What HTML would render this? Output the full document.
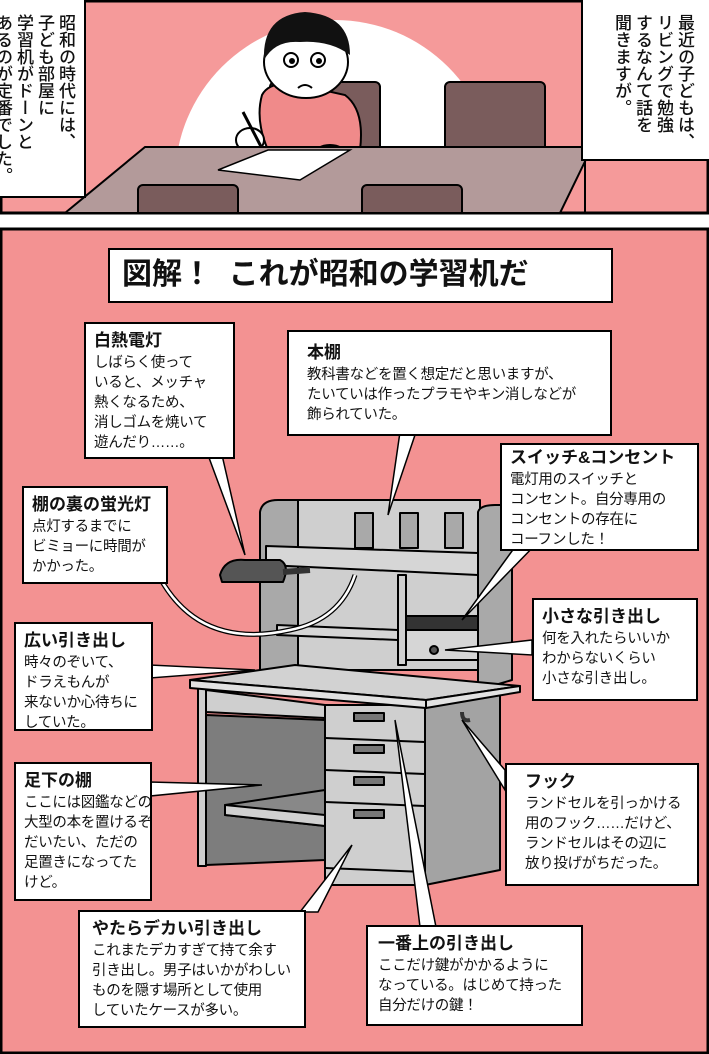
<!DOCTYPE html>
<html><head><meta charset="utf-8"><style>
body{margin:0;width:709px;height:1054px;background:#fff;overflow:hidden;position:relative;font-family:"Liberation Sans","Noto Sans CJK JP",sans-serif;}
.box{position:absolute;background:#fff;border:2px solid #000;box-sizing:border-box;padding:6px 8px;color:#111;white-space:nowrap;overflow:hidden;}
.box h4{margin:0 0 2px;font-size:17px;font-weight:bold;line-height:21px;}
.box p{margin:0;font-size:14.5px;line-height:20px;letter-spacing:-0.3px;}
.v{writing-mode:vertical-rl;font-size:17px;line-height:21px;font-weight:500;padding:14px 8px;}
</style></head><body>
<svg width="709" height="1054" style="position:absolute;left:0;top:0">
<rect x="1" y="1" width="707" height="212" fill="#f59a9a" stroke="#000" stroke-width="3"/>
<clipPath id="tp"><rect x="2" y="2" width="705" height="210"/></clipPath>
<g clip-path="url(#tp)">
<circle cx="335" cy="180" r="160" fill="#fff"/>
<rect x="445" y="82" width="100" height="75" rx="5" fill="#7a5c5c" stroke="#000" stroke-width="2"/>
<rect x="270" y="82" width="110" height="75" rx="5" fill="#7a5c5c" stroke="#000" stroke-width="2"/>
<path d="M262 95 Q270 80 300 85 L345 95 Q365 110 360 150 L268 150 Q255 120 262 95Z" fill="#f08a8a" stroke="#000" stroke-width="2"/>
<ellipse cx="306" cy="62" rx="42" ry="36" fill="#fff" stroke="#000" stroke-width="2"/>
<path d="M264 60 Q262 15 305 12 Q350 15 350 55 Q330 40 300 42 Q275 40 264 60Z" fill="#111"/>
<circle cx="291" cy="60" r="7" fill="#fff" stroke="#000" stroke-width="2"/><circle cx="292" cy="61" r="3"/>
<circle cx="318" cy="60" r="7" fill="#fff" stroke="#000" stroke-width="2"/><circle cx="319" cy="61" r="3"/>
<path d="M298 88 Q305 82 312 88" fill="none" stroke="#000" stroke-width="2"/>
<ellipse cx="250" cy="140" rx="14" ry="12" fill="#fff" stroke="#000" stroke-width="2"/>
<ellipse cx="330" cy="155" rx="16" ry="10" fill="#fff" stroke="#000" stroke-width="2"/>
<line x1="243" y1="112" x2="268" y2="160" stroke="#000" stroke-width="3"/>
<polygon points="65,213 145,147 592,147 560,213" fill="#b39a9a" stroke="#000" stroke-width="2"/>
<polygon points="218,170 268,150 350,150 300,180" fill="#fff" stroke="#000" stroke-width="1.5"/>
<line x1="585" y1="150" x2="585" y2="213" stroke="#000" stroke-width="2"/>
<rect x="138" y="185" width="100" height="40" rx="5" fill="#7a5c5c" stroke="#000" stroke-width="2"/>
<rect x="362" y="185" width="100" height="40" rx="5" fill="#7a5c5c" stroke="#000" stroke-width="2"/>
</g>
<rect x="1" y="229" width="707" height="824" fill="#f39292" stroke="#000" stroke-width="3"/>
<g stroke="#000" stroke-width="2" stroke-linejoin="round">
<path d="M260 680 L260 512 Q262 500 278 500 L298 500 L298 680Z" fill="#a9a9a9"/>
<rect x="298" y="500" width="182" height="170" fill="#cfcfcf"/>
<path d="M478 690 L478 512 Q480 505 495 505 L512 505 L512 680Z" fill="#a9a9a9"/>
<rect x="355" y="513" width="18" height="35" fill="#a9a9a9"/>
<rect x="400" y="513" width="18" height="35" fill="#a9a9a9"/>
<rect x="445" y="513" width="18" height="35" fill="#a9a9a9"/>
<polygon points="266,546 478,553 478,575 266,565" fill="#d6d6d6"/>
<rect x="398" y="575" width="8" height="90" fill="#cfcfcf"/>
<rect x="406" y="616" width="72" height="14" fill="#333"/>
<rect x="406" y="630" width="72" height="30" fill="#d6d6d6"/>
<circle cx="434" cy="650" r="4" fill="#555"/>
<polygon points="277,625 398,630 398,640 277,635" fill="#d6d6d6"/>
<path d="M220 575 Q225 558 245 560 L280 560 Q290 565 283 582 L222 582Z" fill="#555"/>
<path d="M283 572 L310 570" stroke="#333" stroke-width="6"/>
<rect x="198" y="688" width="8" height="178" fill="#cfcfcf"/>
<polygon points="206,715 325,720 325,860 206,865" fill="#7d7d7d"/>
<polygon points="206,690 325,705 325,718 206,712" fill="#cfcfcf"/>
<polygon points="225,805 325,790 325,826 225,815" fill="#888"/>
<polygon points="225,805 325,815 325,826 225,815" fill="#d0d0d0"/>
<polygon points="425,705 500,690 500,870 425,885" fill="#a3a3a3"/>
<rect x="325" y="705" width="100" height="180" fill="#cfcfcf"/>
<line x1="325" y1="738" x2="425" y2="742"/><line x1="325" y1="770" x2="425" y2="774"/><line x1="325" y1="802" x2="425" y2="806"/><line x1="325" y1="868" x2="425" y2="872"/>
<rect x="354" y="713" width="30" height="8" fill="#777"/><rect x="354" y="745" width="30" height="8" fill="#777"/><rect x="354" y="777" width="30" height="8" fill="#777"/><rect x="354" y="810" width="30" height="8" fill="#777"/>
<polygon points="190,680 295,665 520,686 426,700" fill="#d2d2d2"/>
<polygon points="190,680 426,700 426,708 190,688" fill="#e2e2e2"/>
<polygon points="426,700 520,686 520,692 426,708" fill="#e2e2e2"/>
<path d="M462 712 Q462 722 470 720" fill="none" stroke="#333" stroke-width="4"/>
</g>
<g fill="#fff" stroke="#000" stroke-width="1.5">
<polygon points="208,455 222,455 245,555"/>
<polygon points="400,432 416,432 388,515"/>
<polygon points="520,540 540,540 462,620"/>
<polygon points="532,640 532,655 445,650"/>
<polygon points="150,665 150,678 255,670"/>
<polygon points="150,782 150,796 262,785"/>
<polygon points="505,770 505,790 462,720"/>
<polygon points="300,912 318,912 352,845"/>
<polygon points="420,927 436,927 395,720"/>
</g>
<path d="M160 578 Q200 650 290 630 Q340 620 355 575" fill="none" stroke="#000" stroke-width="5"/>
<path d="M160 578 Q200 650 290 630 Q340 620 355 575" fill="none" stroke="#fff" stroke-width="2.5"/>
</svg>
<div class="box v" style="left:0;top:0;width:86px;height:198px;border-top:none;border-left:none">昭和の時代には、<br>子ども部屋に<br>学習机がドーンと<br>あるのが定番でした。</div>
<div class="box v" style="left:581px;top:0;width:128px;height:161px;border-top:none;border-right:none;padding-left:14px;padding-right:14px">最近の子どもは、<br>リビングで勉強<br>するなんて話を<br>聞きますが。</div>
<div class="box" style="left:108px;top:248px;width:505px;height:55px;font-size:30px;font-weight:bold;line-height:40px;padding:5px 12px;">図解！&nbsp;&nbsp;これが昭和の学習机だ</div>
<div class="box" style="left:84px;top:322px;width:151px;height:137px"><h4>白熱電灯</h4><p>しばらく使って<br>いると、メッチャ<br>熱くなるため、<br>消しゴムを焼いて<br>遊んだり……。</p></div>
<div class="box" style="left:287px;top:330px;width:325px;height:106px;padding-left:18px;padding-top:10px"><h4>本棚</h4><p>教科書などを置く想定だと思いますが、<br>たいていは作ったプラモやキン消しなどが<br>飾られていた。</p></div>
<div class="box" style="left:500px;top:443px;width:199px;height:108px;padding-top:2px"><h4 style="font-size:17px">スイッチ&amp;コンセント</h4><p>電灯用のスイッチと<br>コンセント。自分専用の<br>コンセントの存在に<br>コーフンした！</p></div>
<div class="box" style="left:22px;top:486px;width:146px;height:98px"><h4>棚の裏の蛍光灯</h4><p>点灯するまでに<br>ビミョーに時間が<br>かかった。</p></div>
<div class="box" style="left:532px;top:598px;width:166px;height:103px"><h4>小さな引き出し</h4><p>何を入れたらいいか<br>わからないくらい<br>小さな引き出し。</p></div>
<div class="box" style="left:14px;top:622px;width:139px;height:109px"><h4>広い引き出し</h4><p>時々のぞいて、<br>ドラえもんが<br>来ないか心待ちに<br>していた。</p></div>
<div class="box" style="left:14px;top:762px;width:138px;height:139px"><h4>足下の棚</h4><p>ここには図鑑などの<br>大型の本を置けるぞ！<br>だいたい、ただの<br>足置きになってた<br>けど。</p></div>
<div class="box" style="left:505px;top:763px;width:194px;height:123px;padding-left:18px"><h4>フック</h4><p>ランドセルを引っかける<br>用のフック……だけど、<br>ランドセルはその辺に<br>放り投げがちだった。</p></div>
<div class="box" style="left:78px;top:910px;width:228px;height:118px;padding-left:12px"><h4>やたらデカい引き出し</h4><p>これまたデカすぎて持て余す<br>引き出し。男子はいかがわしい<br>ものを隠す場所として使用<br>していたケースが多い。</p></div>
<div class="box" style="left:366px;top:925px;width:217px;height:101px;padding-left:10px"><h4>一番上の引き出し</h4><p>ここだけ鍵がかかるように<br>なっている。はじめて持った<br>自分だけの鍵！</p></div>
</body></html>
